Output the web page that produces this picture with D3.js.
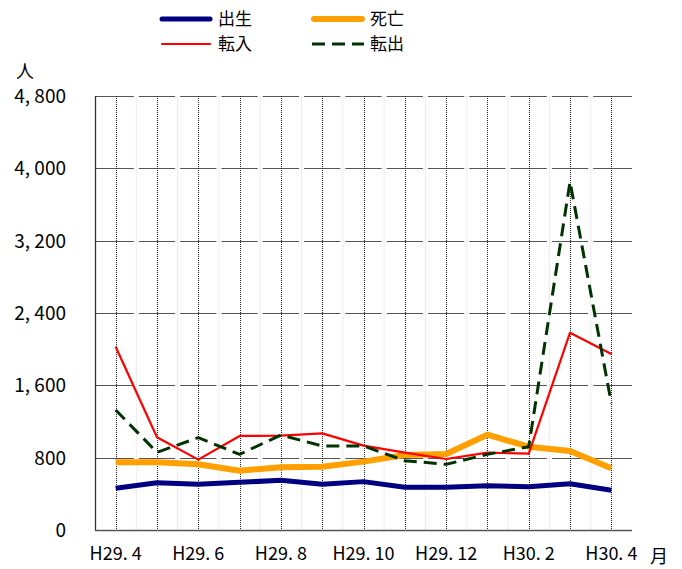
<!DOCTYPE html>
<html>
<head>
<meta charset="utf-8">
<script src="https://cdn.jsdelivr.net/npm/d3@7"></script>
<style>
  body { margin: 0; background: #fff; }
  svg { display: block; font-family: "Noto Sans CJK JP", sans-serif; }
</style>
</head>
<body>
<svg id="chart" width="682" height="569"></svg>
<script>
"use strict";

// months on the x axis (H29.4 - H30.4)
var months = ["H29.4", "H29.5", "H29.6", "H29.7", "H29.8", "H29.9", "H29.10",
              "H29.11", "H29.12", "H30.1", "H30.2", "H30.3", "H30.4"];
// labels shown under every other month
var tickLabels = {"H29.4": "H29. 4", "H29.6": "H29. 6", "H29.8": "H29. 8",
                  "H29.10": "H29. 10", "H29.12": "H29. 12", "H30.2": "H30. 2", "H30.4": "H30. 4"};
var yTicks = [0, 800, 1600, 2400, 3200, 4000, 4800];

// values (persons)
var birth   = [461, 523, 505, 527, 550, 505, 535, 472, 472, 490, 479, 512, 439];
var death   = [749, 749, 727, 656, 693, 700, 756, 830, 840, 1054, 921, 874, 682];
var moveIn  = [2027, 1025, 778, 1040, 1043, 1069, 933, 855, 785, 855, 844, 2182, 1946];
var moveOut = [1327, 859, 1021, 837, 1051, 929, 929, 767, 726, 837, 921, 3852, 1401];

var series = [
  {name: "出生", values: birth,   color: "#000080", width: 5,   dash: null},
  {name: "死亡", values: death,   color: "#ffa000", width: 6,   dash: null},
  {name: "転入", values: moveIn,  color: "#ff0000", width: 2.2, dash: null},
  {name: "転出", values: moveOut, color: "#003300", width: 3,   dash: "13,7"}
];

var svg = d3.select("#chart");
var plotL = 95, plotR = 632, plotT = 96, plotB = 530;

var x = d3.scalePoint().domain(months).range([plotL, plotR]).padding(0.5);
var y = d3.scaleLinear().domain([0, 4800]).range([plotB, plotT]);
var step = x.step();

// horizontal grid lines
svg.append("g")
  .selectAll("line")
  .data(yTicks.filter(function(d){ return d > 0 }))
  .enter()
  .append("line")
  .attr("x1", plotL)
  .attr("x2", plotR)
  .attr("y1", function(d){ return Math.round(y(d)) + 0.5 })
  .attr("y2", function(d){ return Math.round(y(d)) + 0.5 })
  .style("stroke", "#555")
  .style("stroke-width", 1.2);

// light lines between months (they cut the grid lines)
var bounds = d3.range(1, months.length).map(function(i){ return plotL + i * step });
svg.append("g")
  .selectAll("line")
  .data(bounds)
  .enter()
  .append("line")
  .attr("x1", function(d){ return d })
  .attr("x2", function(d){ return d })
  .attr("y1", plotT)
  .attr("y2", plotB)
  .style("stroke", "#fff")
  .style("stroke-width", 5);
svg.append("g")
  .selectAll("line")
  .data(bounds)
  .enter()
  .append("line")
  .attr("x1", function(d){ return d })
  .attr("x2", function(d){ return d })
  .attr("y1", plotT)
  .attr("y2", plotB)
  .style("stroke", "#ddd")
  .style("stroke-width", 1)
  .style("stroke-dasharray", "1,1");

// dotted lines on each month
svg.append("g")
  .selectAll("line")
  .data(months)
  .enter()
  .append("line")
  .attr("x1", function(d){ return Math.round(x(d)) + 0.5 })
  .attr("x2", function(d){ return Math.round(x(d)) + 0.5 })
  .attr("y1", plotT)
  .attr("y2", plotB)
  .style("stroke", "#222")
  .style("stroke-width", 1)
  .style("stroke-dasharray", "1,1");

// axes
svg.append("line")
  .attr("x1", plotL + 0.5).attr("x2", plotL + 0.5)
  .attr("y1", plotT).attr("y2", plotB)
  .style("stroke", "#333").style("stroke-width", 1.3);
svg.append("line")
  .attr("x1", plotL).attr("x2", plotR)
  .attr("y1", plotB + 0.5).attr("y2", plotB + 0.5)
  .style("stroke", "#555").style("stroke-width", 1.3);

// y labels
svg.append("g")
  .selectAll("text")
  .data(yTicks)
  .enter()
  .append("text")
  .attr("x", 66)
  .attr("y", function(d){ return y(d) })
  .attr("dy", "0.36em")
  .attr("text-anchor", "end")
  .style("font-size", "19px")
  .style("fill", "#000")
  .text(function(d){ return d3.format(",")(d).replace(",", ", ") });

// x labels
svg.append("g")
  .selectAll("text")
  .data(months.filter(function(d){ return tickLabels[d] }))
  .enter()
  .append("text")
  .attr("x", function(d){ return x(d) })
  .attr("y", 560)
  .attr("text-anchor", "middle")
  .style("font-size", "18px")
  .style("fill", "#000")
  .text(function(d){ return tickLabels[d] });

svg.append("text").attr("x", 25).attr("y", 78).attr("text-anchor", "middle")
  .style("font-size", "18px").text("人");
svg.append("text").attr("x", 659).attr("y", 563).attr("text-anchor", "middle")
  .style("font-size", "18px").text("月");

// data lines
var line = d3.line()
  .x(function(d, i){ return x(months[i]) })
  .y(function(d){ return y(d) });

svg.append("g")
  .selectAll("path")
  .data(series)
  .enter()
  .append("path")
  .attr("d", function(d){ return line(d.values) })
  .style("fill", "none")
  .style("stroke", function(d){ return d.color })
  .style("stroke-width", function(d){ return d.width })
  .style("stroke-linejoin", "round")
  .style("stroke-dasharray", function(d){ return d.dash });

// legend
var legendPos = [[160, 19], [312, 19], [160, 44], [312, 44]];
var lg = svg.append("g")
  .selectAll("g")
  .data(series)
  .enter()
  .append("g")
  .attr("transform", function(d, i){ return "translate(" + legendPos[i][0] + "," + legendPos[i][1] + ")" });

lg.append("line")
  .attr("x1", function(d){ return d.dash ? 0 : 2 })
  .attr("x2", function(d){ return d.dash ? 52 : 50 })
  .attr("y1", 0).attr("y2", 0)
  .style("stroke", function(d){ return d.color })
  .style("stroke-width", function(d){ return d.width })
  .style("stroke-linecap", function(d){ return d.dash ? "butt" : "round" })
  .style("stroke-dasharray", function(d){ return d.dash });

lg.append("text")
  .attr("x", 58)
  .attr("y", 0)
  .attr("dy", "0.36em")
  .style("font-size", "17px")
  .style("fill", "#000")
  .text(function(d){ return d.name });
</script>
</body>
</html>
